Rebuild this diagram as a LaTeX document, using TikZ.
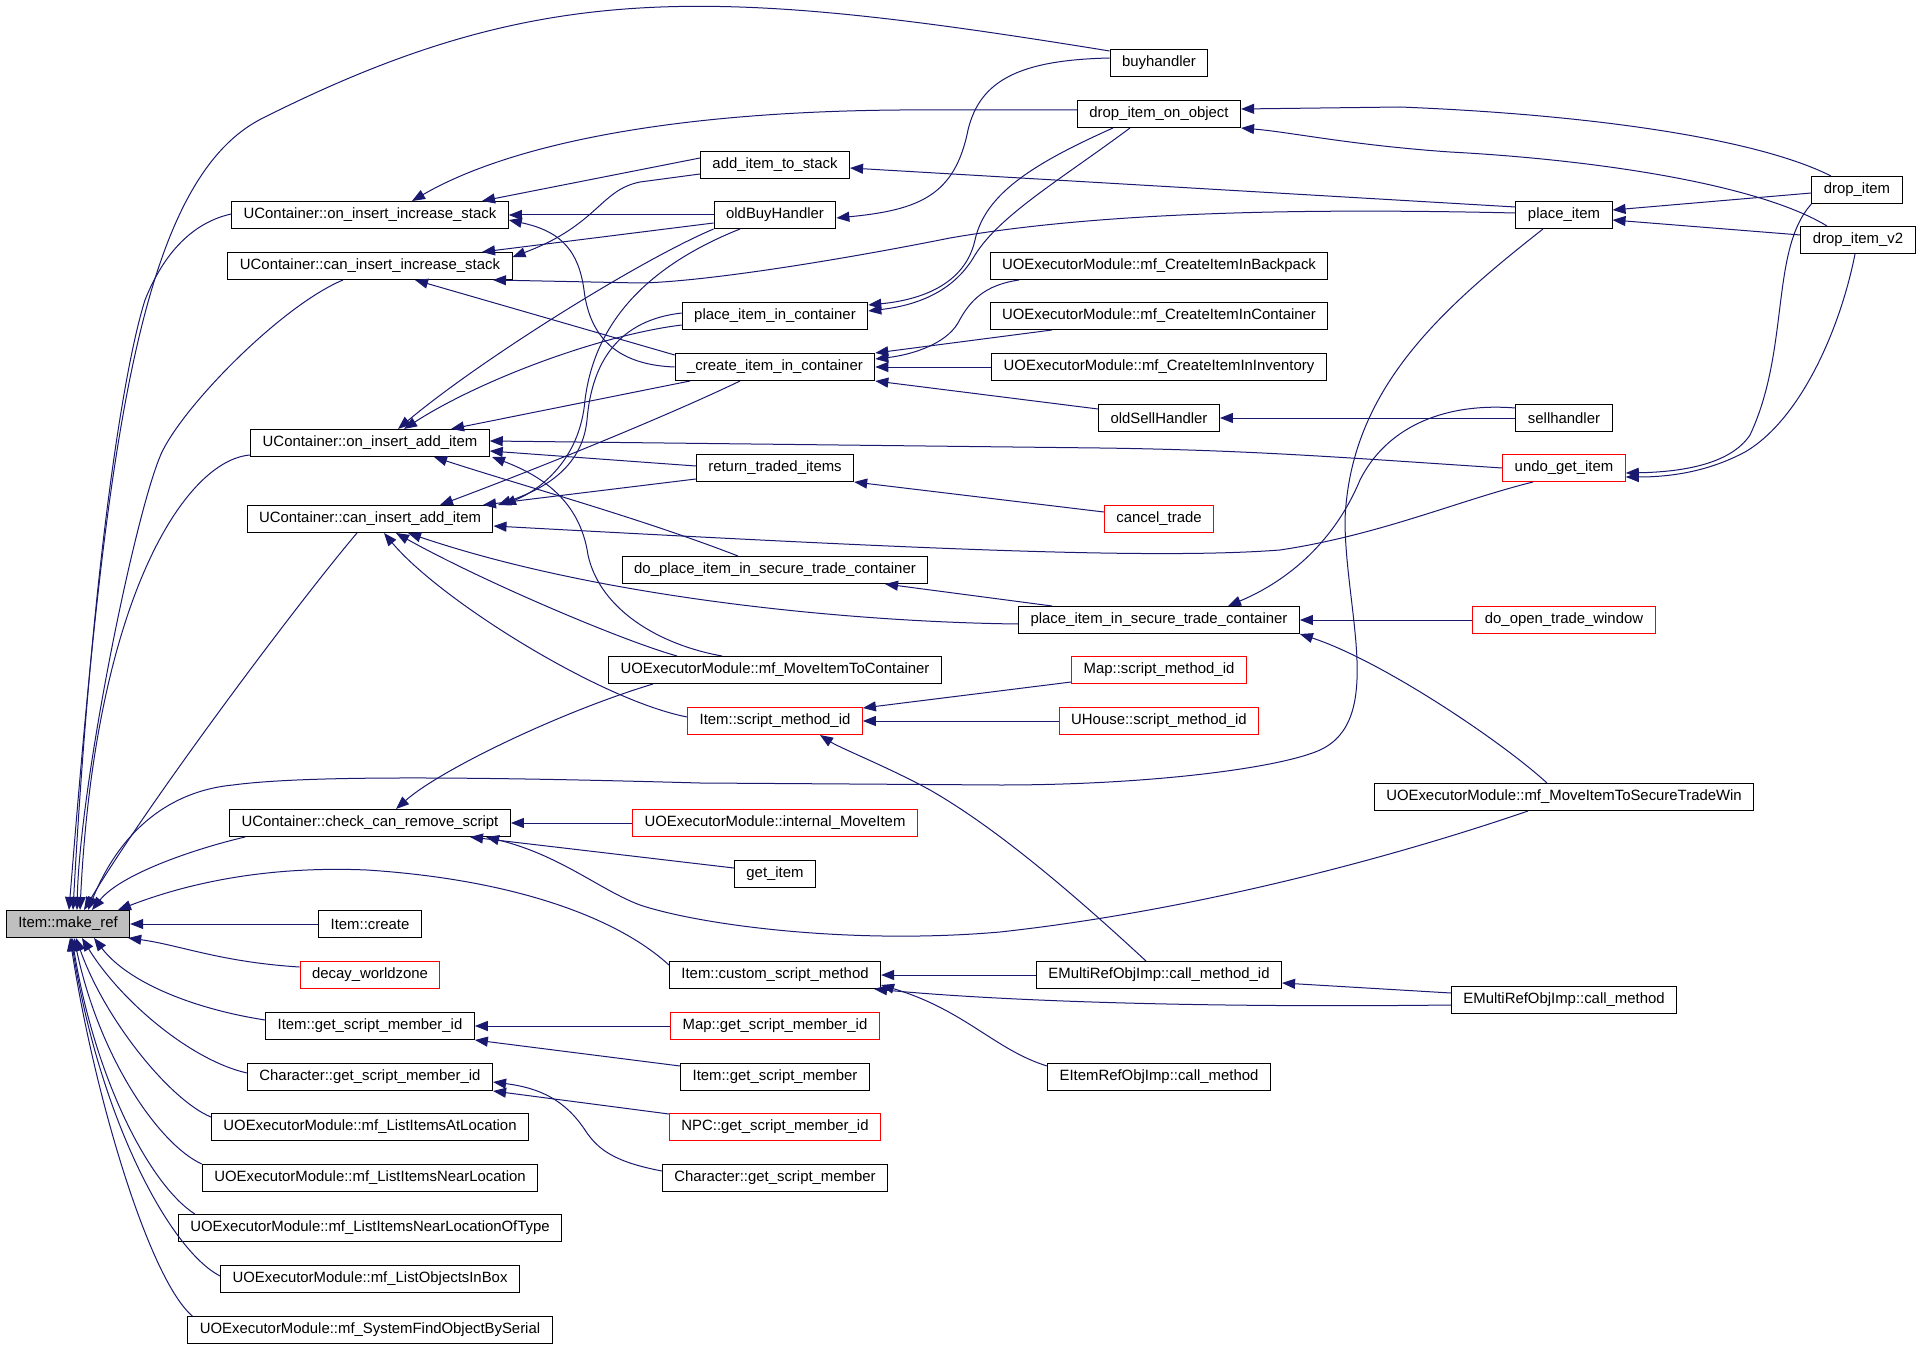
\documentclass[tikz,border=0pt]{standalone}
\usepackage{fontspec}
\setmainfont{Liberation Sans}
\usetikzlibrary{arrows.meta}
\definecolor{calledge}{HTML}{191970}
\definecolor{focusgray}{HTML}{BFBFBF}

\begin{document}
\begin{tikzpicture}[x=1pt,y=-1pt,
    fn/.style={draw=black, fill=white, line width=1pt, minimum height=27pt, inner xsep=12pt, inner ysep=0pt, font=\fontsize{14.9}{17}\selectfont},
    fnred/.style={fn, draw=red},
    fnfocus/.style={fn, fill=focusgray},
    call/.style={draw=calledge, line width=1pt, -{Triangle[length=13pt,width=10pt]}}]

    \path[use as bounding box, fill=white] (0,0) rectangle (1920,1348);

    \node[fnfocus] (mkref) at (68,924) {Item::make\_ref};

    \node[fn] (oiis) at (370,215) {UContainer::on\_insert\_increase\_stack};
    \node[fn] (ciis) at (370,266) {UContainer::can\_insert\_increase\_stack};
    \node[fn] (oiai) at (370,443) {UContainer::on\_insert\_add\_item};
    \node[fn] (ciai) at (370,519) {UContainer::can\_insert\_add\_item};
    \node[fn] (ccrs) at (370,823) {UContainer::check\_can\_remove\_script};
    \node[fn] (icreate) at (370,924) {Item::create};
    \node[fnred] (decay) at (370,975) {decay\_worldzone};
    \node[fn] (igsmi) at (370,1026) {Item::get\_script\_member\_id};
    \node[fn] (cgsmi) at (370,1077) {Character::get\_script\_member\_id};
    \node[fn] (lial) at (370,1127) {UOExecutorModule::mf\_ListItemsAtLocation};
    \node[fn] (linl) at (370,1178) {UOExecutorModule::mf\_ListItemsNearLocation};
    \node[fn] (linlt) at (370,1228) {UOExecutorModule::mf\_ListItemsNearLocationOfType};
    \node[fn] (lobox) at (370,1279) {UOExecutorModule::mf\_ListObjectsInBox};
    \node[fn] (sfobs) at (370,1330) {UOExecutorModule::mf\_SystemFindObjectBySerial};

    \node[fn] (aits) at (775,165) {add\_item\_to\_stack};
    \node[fn] (obuy) at (775,215) {oldBuyHandler};
    \node[fn] (pic) at (775,316) {place\_item\_in\_container};
    \node[fn] (cic) at (775,367) {\_create\_item\_in\_container};
    \node[fn] (rti) at (775,468) {return\_traded\_items};
    \node[fn] (dopl) at (775,570) {do\_place\_item\_in\_secure\_trade\_container};
    \node[fn] (mvcont) at (775,670) {UOExecutorModule::mf\_MoveItemToContainer};
    \node[fnred] (ismi) at (775,721) {Item::script\_method\_id};
    \node[fnred] (imove) at (775,823) {UOExecutorModule::internal\_MoveItem};
    \node[fn] (getitem) at (775,874) {get\_item};
    \node[fn] (custom) at (775,975) {Item::custom\_script\_method};
    \node[fnred] (mgsmi) at (775,1026) {Map::get\_script\_member\_id};
    \node[fn] (igsm) at (775,1077) {Item::get\_script\_member};
    \node[fnred] (ngsmi) at (775,1127) {NPC::get\_script\_member\_id};
    \node[fn] (cgsm) at (775,1178) {Character::get\_script\_member};

    \node[fn] (buyh) at (1159,63) {buyhandler};
    \node[fn] (dioo) at (1159,114) {drop\_item\_on\_object};
    \node[fn] (cbp) at (1159,266) {UOExecutorModule::mf\_CreateItemInBackpack};
    \node[fn] (ccont) at (1159,316) {UOExecutorModule::mf\_CreateItemInContainer};
    \node[fn] (cinv) at (1159,367) {UOExecutorModule::mf\_CreateItemInInventory};
    \node[fn] (osell) at (1159,418) {oldSellHandler};
    \node[fnred] (ctrade) at (1159,519) {cancel\_trade};
    \node[fn] (pistc) at (1159,620) {place\_item\_in\_secure\_trade\_container};
    \node[fnred] (msmi) at (1159,670) {Map::script\_method\_id};
    \node[fnred] (hsmi) at (1159,721) {UHouse::script\_method\_id};
    \node[fn] (cmid) at (1159,975) {EMultiRefObjImp::call\_method\_id};
    \node[fn] (eicm) at (1159,1077) {EItemRefObjImp::call\_method};

    \node[fn] (placei) at (1564,215) {place\_item};
    \node[fn] (sellh) at (1564,418) {sellhandler};
    \node[fnred] (undo) at (1564,468) {undo\_get\_item};
    \node[fnred] (dotw) at (1564,620) {do\_open\_trade\_window};
    \node[fn] (mstw) at (1564,797) {UOExecutorModule::mf\_MoveItemToSecureTradeWin};
    \node[fn] (mcm) at (1564,1000) {EMultiRefObjImp::call\_method};

    \node[fn] (dropi) at (1857,190) {drop\_item};
    \node[fn] (dropv2) at (1858,240) {drop\_item\_v2};

    \draw[call] ([yshift=-2pt]buyh.north west) .. controls (709,-14) and (540,-21) .. (263,118) .. controls (138,180) and (106,450) .. ([xshift=1pt]mkref.north);
    \draw[call] ([yshift=1pt]oiis.west) .. controls (195,222) and (165,250) .. (145,300) .. controls (120,380) and (90,600) .. ([xshift=5pt]mkref.north);
    \draw[call] ([xshift=-27pt]ciis.south) .. controls (283,305) and (188,401) .. (163,450) .. controls (138,499) and (80,780) .. ([xshift=9pt]mkref.north);
    \draw[call] ([yshift=2pt]oiai.south west) .. controls (185,460) and (95,600) .. ([xshift=12pt]mkref.north);
    \draw[call] ([xshift=-13pt]ciai.south) .. controls (300,600) and (150,800) .. ([xshift=16pt]mkref.north);
    \draw[call] ([xshift=-21pt]placei.south) .. controls (1440,310) and (1350,390) .. (1345,520) .. controls (1345,610) and (1385,720) .. (1320,750) .. controls (1280,768) and (1150,785) .. (1000,785) -- (700,783) .. controls (450,776) and (300,776) .. (233,785) .. controls (180,790) and (125,820) .. ([xshift=20pt]mkref.north);
    \draw[call] ([xshift=-125pt]ccrs.south) .. controls (190,850) and (120,875) .. ([xshift=24pt]mkref.north);
    \draw[call] ([yshift=10pt]custom.west) .. controls (620,920) and (520,880) .. (367,870) .. controls (250,865) and (170,890) .. ([xshift=50pt]mkref.north);
    \draw[call] (icreate.west) -- (mkref.east);
    \draw[call] ([yshift=8pt]decay.west) .. controls (220,962) and (180,945) .. ([xshift=-2pt]mkref.south east);
    \draw[call] ([yshift=6pt]igsmi.west) .. controls (200,1010) and (130,985) .. ([xshift=26pt]mkref.south);
    \draw[call] ([yshift=4pt]cgsmi.west) .. controls (190,1060) and (120,1000) .. ([xshift=14pt]mkref.south);
    \draw[call] ([yshift=10pt]lial.west) .. controls (170,1100) and (105,1020) .. ([xshift=8pt]mkref.south);
    \draw[call] (linl.north west) .. controls (160,1145) and (100,1060) .. ([xshift=6pt]mkref.south);
    \draw[call] ([xshift=17pt]linlt.north west) .. controls (150,1185) and (95,1080) .. ([xshift=4pt]mkref.south);
    \draw[call] ([yshift=3pt]lobox.west) .. controls (170,1250) and (100,1120) .. ([xshift=3pt]mkref.south);
    \draw[call] ([xshift=5pt]sfobs.north west) .. controls (150,1280) and (95,1100) .. ([xshift=2pt]mkref.south);

    \draw[call] ([yshift=4pt]dioo.west) -- (900,110) .. controls (650,112) and (500,150) .. ([xshift=42pt]oiis.north);
    \draw[call] ([yshift=7pt]aits.west) -- ([xshift=112pt]oiis.north);
    \draw[call] ([yshift=-9pt]aits.west) -- (640,182) .. controls (600,190) and (598,225) .. ([yshift=9pt]ciis.east);
    \draw[call] (obuy.west) -- (oiis.east);
    \draw[call] ([yshift=-8pt]obuy.west) -- ([xshift=112pt]ciis.north);
    \draw[call] (cic.west) .. controls (620,365) and (590,340) .. (584,290) .. controls (578,245) and (555,230) .. ([yshift=-5pt]oiis.east);
    \draw[call] ([yshift=12pt]cic.west) -- ([xshift=45pt]ciis.south);
    \draw[call] ([yshift=2pt]placei.west) .. controls (1300,208) and (1100,212) .. (950,238) .. controls (830,262) and (700,282) .. (640,283) -- ([xshift=123pt]ciis.south);
    \draw[call] ([yshift=8pt]placei.west) -- ([yshift=-3pt]aits.east);

    \draw[call] ([xshift=-46pt]dioo.south) .. controls (1030,165) and (985,195) .. (975,240) .. controls (965,285) and (920,300) .. ([yshift=11pt]pic.east);
    \draw[call] ([xshift=-29pt]dioo.south) .. controls (1060,180) and (1000,215) .. (975,255) .. controls (955,290) and (920,305) .. ([yshift=5pt]pic.east);
    \draw[call] ([xshift=-140pt]cbp.south) .. controls (985,285) and (970,300) .. (958,323) .. controls (945,345) and (910,355) .. ([yshift=8pt]cic.east);
    \draw[call] ([xshift=-107pt]ccont.south) -- (cic.north east);
    \draw[call] (cinv.west) -- (cic.east);
    \draw[call] ([yshift=9pt]osell.west) -- (cic.south east);
    \draw[call] ([yshift=5pt]buyh.west) .. controls (1020,60) and (980,80) .. (968,130) .. controls (955,195) and (920,210) .. ([yshift=-3pt]obuy.east);

    \draw[call] (obuy.south west) .. controls (640,260) and (480,360) .. ([xshift=28pt]oiai.north);
    \draw[call] ([xshift=-35pt]obuy.south) .. controls (650,265) and (595,320) .. (585,400) .. controls (580,460) and (540,490) .. ([xshift=133pt]ciai.north);
    \draw[call] ([yshift=-9pt]pic.west) .. controls (600,335) and (480,380) .. ([xshift=34pt]oiai.north);
    \draw[call] ([yshift=3pt]pic.west) .. controls (620,320) and (592,360) .. (587,420) .. controls (582,470) and (540,490) .. ([xshift=128pt]ciai.north);
    \draw[call] ([xshift=-85pt]cic.south) -- ([xshift=81pt]oiai.north);
    \draw[call] ([xshift=-35pt]cic.south) .. controls (680,410) and (560,460) .. ([xshift=70pt]ciai.north);
    \draw[call] (undo.west) .. controls (1350,458) and (1250,450) .. (1100,448) -- ([yshift=2pt]oiai.east);
    \draw[call] ([yshift=2pt]rti.west) -- ([yshift=-8pt]oiai.east);
    \draw[call] ([yshift=-11pt]rti.west) -- ([xshift=113pt]ciai.north);
    \draw[call] ([xshift=-31pt]undo.south) .. controls (1460,500) and (1380,535) .. (1280,550) .. controls (1150,560) and (900,548) .. ([yshift=-7pt]ciai.east);
    \draw[call] ([xshift=-37pt]dopl.north) .. controls (640,518) and (520,485) .. ([xshift=64pt]oiai.south);
    \draw[call] ([xshift=-53pt]mvcont.north) .. controls (660,645) and (600,610) .. (588,555) .. controls (580,500) and (540,475) .. ([xshift=122pt]oiai.south);
    \draw[call] ([yshift=4pt]ismi.west) .. controls (600,700) and (440,600) .. ([xshift=14pt]ciai.south);
    \draw[call] ([xshift=-98pt]mvcont.north) .. controls (620,640) and (480,580) .. ([xshift=26pt]ciai.south);
    \draw[call] ([yshift=-4pt]pistc.west) .. controls (850,622) and (600,598) .. ([xshift=38pt]ciai.south);

    \draw[call] ([xshift=-122pt]mvcont.south) .. controls (560,712) and (440,770) .. ([xshift=26pt]ccrs.north);
    \draw[call] (imove.west) -- (ccrs.east);
    \draw[call] ([yshift=6pt]getitem.west) -- ([xshift=100pt]ccrs.south);
    \draw[call] ([xshift=-36pt]mstw.south) .. controls (1400,855) and (1200,910) .. (1000,932) .. controls (850,945) and (700,925) .. (640,905) .. controls (600,890) and (560,855) .. ([xshift=116pt]ccrs.south);

    \draw[call] ([yshift=-12pt]msmi.west) -- ([yshift=13pt]ismi.east);
    \draw[call] (hsmi.west) -- (ismi.east);
    \draw[call] ([xshift=-13pt]cmid.north) .. controls (1080,900) and (1000,830) .. (930,790) .. controls (890,768) and (840,748) .. ([xshift=45pt]ismi.south);
    \draw[call] (cmid.west) -- (custom.east);
    \draw[call] ([yshift=-5pt]mcm.west) .. controls (1200,1008) and (1000,1001) .. ([xshift=-7pt]custom.south east);
    \draw[call] ([yshift=11pt]eicm.west) .. controls (995,1050) and (965,1010) .. ([yshift=-10pt]custom.east);
    \draw[call] ([yshift=7pt]mcm.west) -- ([yshift=-8pt]cmid.east);

    \draw[call] (mgsmi.west) -- (igsmi.east);
    \draw[call] ([yshift=11pt]igsm.west) -- (igsmi.south east);
    \draw[call] ([yshift=13pt]ngsmi.west) -- (cgsmi.south east);
    \draw[call] ([yshift=7pt]cgsm.west) .. controls (615,1162) and (598,1150) .. (585,1130) .. controls (565,1100) and (540,1088) .. ([yshift=-5pt]cgsmi.east);

    \draw[call] ([yshift=-3pt]dropi.west) -- ([yshift=5pt]placei.east);
    \draw[call] ([yshift=5pt]dropv2.west) -- ([yshift=-5pt]placei.east);
    \draw[call] ([xshift=-26pt]dropi.north) .. controls (1760,140) and (1600,115) .. (1400,107) -- ([yshift=5pt]dioo.east);
    \draw[call] ([xshift=-31pt]dropv2.north) .. controls (1760,185) and (1600,160) .. (1450,152) .. controls (1350,145) and (1290,132) .. (dioo.south east);
    \draw[call] (dropi.south west) .. controls (1770,250) and (1790,350) .. (1750,435) .. controls (1730,465) and (1680,472) .. ([yshift=-5pt]undo.east);
    \draw[call] ([xshift=-3pt]dropv2.south) .. controls (1840,330) and (1800,420) .. (1745,452) .. controls (1715,468) and (1680,477) .. ([yshift=-9pt]undo.east);

    \draw[call] ([yshift=7pt]ctrade.west) -- (rti.south east);
    \draw[call] ([xshift=-107pt]pistc.north) -- ([xshift=110pt]dopl.south);
    \draw[call] (dotw.west) -- (pistc.east);
    \draw[call] ([xshift=-17pt]mstw.north) .. controls (1500,740) and (1380,660) .. (pistc.south east);
    \draw[call] ([yshift=10pt]sellh.west) .. controls (1440,402) and (1385,430) .. (1360,480) .. controls (1335,540) and (1290,580) .. ([xshift=69pt]pistc.north);
    \draw[call] (sellh.west) -- (osell.east);
\end{tikzpicture}
\end{document}
